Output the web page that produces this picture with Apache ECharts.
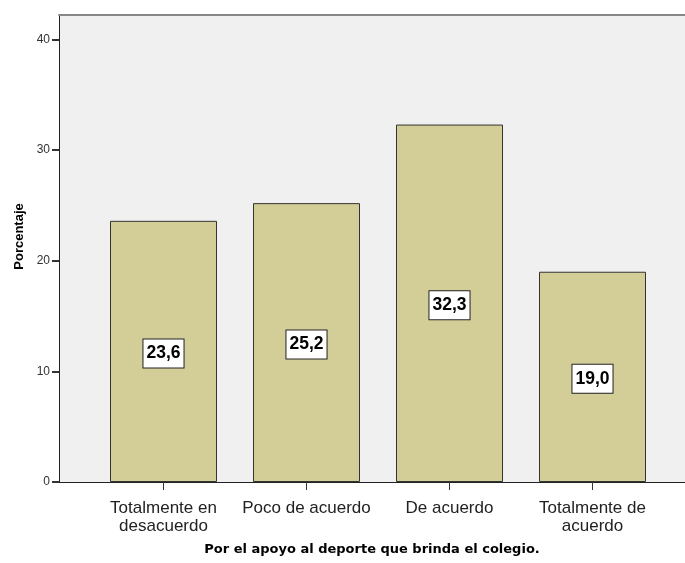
<!DOCTYPE html>
<html>
<head>
<meta charset="utf-8">
<script src="https://cdn.jsdelivr.net/npm/echarts@6/dist/echarts.min.js"></script>
<style>
html, body { margin: 0; padding: 0; background: #fff; }
#chart { width: 685px; height: 563px; }
</style>
</head>
<body>
<div id="chart"></div>
<script>
var categories = ['Totalmente en\ndesacuerdo', 'Poco de acuerdo', 'De acuerdo', 'Totalmente de\nacuerdo']
var percentages = [23.6, 25.2, 32.3, 19.0]
var yTicks = [0, 10, 20, 30, 40]

var font = 'Liberation Sans, Arial, sans-serif'
var yMax = 42.2

var chart = echarts.init(document.getElementById('chart'))
chart.setOption({
	animation: false,
	grid: [
		// background frame
		{
			left: 59, right: 0, top: 15, bottom: 81,
			show: true,
			backgroundColor: '#f0f0f0',
			borderWidth: 0
		},
		// bars
		{
			left: 92, right: 21, top: 15, bottom: 81
		}
	],
	xAxis: [
		{
			gridIndex: 0,
			type: 'category',
			data: [''],
			axisLine: { lineStyle: { color: '#222', width: 1 } },
			axisTick: { show: false },
			axisLabel: { show: false },
			name: 'Por el apoyo al deporte que brinda el colegio.',
			nameLocation: 'middle',
			nameGap: 61,
			nameTextStyle: { fontFamily: 'DejaVu Sans', fontSize: 13, fontWeight: 'bold', color: '#000' }
		},
		{
			gridIndex: 1,
			type: 'category',
			data: categories,
			axisLine: { show: false },
			axisTick: { show: true, alignWithLabel: true, length: 8, lineStyle: { color: '#333' } },
			axisLabel: {
				fontFamily: font, fontSize: 17, color: '#222',
				margin: 17, lineHeight: 18, interval: 0
			}
		},
		// top border line
		{
			gridIndex: 0,
			type: 'category',
			position: 'top',
			data: [''],
			axisLine: { lineStyle: { color: '#888', width: 2 } },
			axisTick: { show: false },
			axisLabel: { show: false }
		}
	],
	yAxis: [
		{
			gridIndex: 0,
			type: 'value',
			min: 0,
			max: yMax,
			interval: 10,
			splitLine: { show: false },
			axisLine: { show: true, lineStyle: { color: '#222' } },
			axisTick: { show: true, length: 7, customValues: yTicks, lineStyle: { color: '#333', width: 2 } },
			axisLabel: {
				fontFamily: font, fontSize: 12, color: '#333', margin: 9,
				customValues: yTicks
			},
			name: 'Porcentaje',
			nameLocation: 'middle',
			nameGap: 33,
			nameRotate: 90,
			nameTextStyle: { fontFamily: font, fontSize: 13, fontWeight: 'bold', color: '#000', padding: [0, 0, 0, 24] }
		},
		{
			gridIndex: 1,
			type: 'value',
			min: 0,
			max: yMax,
			show: false
		}
	],
	series: [
		{
			type: 'bar',
			xAxisIndex: 1,
			yAxisIndex: 1,
			data: percentages,
			barWidth: 107,
			itemStyle: { color: '#d3cd98', borderColor: '#333', borderWidth: 1 },
			label: {
				show: true,
				position: 'inside',
				offset: [0, 2],
				formatter: function (p) { return p.value.toFixed(1).replace('.', ',') },
				fontFamily: font,
				fontSize: 17.5,
				fontWeight: 'bold',
				color: '#000',
				backgroundColor: '#fff',
				borderColor: '#222',
				borderWidth: 1,
				padding: [6, 3, 4, 3]
			}
		}
	]
})
</script>
</body>
</html>
